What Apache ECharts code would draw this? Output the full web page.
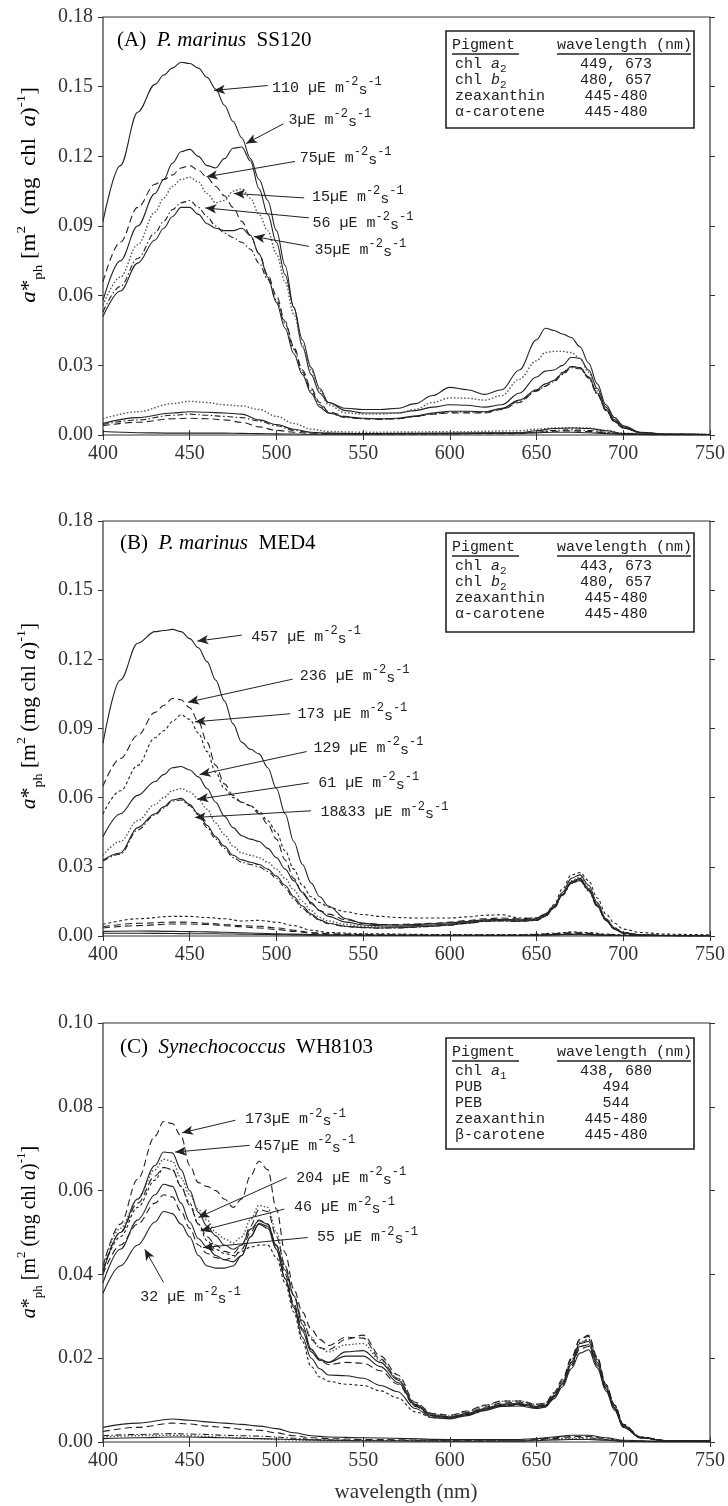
<!DOCTYPE html>
<html><head><meta charset="utf-8">
<script src="https://cdn.jsdelivr.net/npm/echarts@6/dist/echarts.min.js"></script>
<style>html,body{margin:0;padding:0;background:#fff}#c{width:728px;height:1506px}</style>
</head><body><div id="c"></div>
<script>
// ---------- data ----------
const wl = [400,410,420,430,435,440,445,450,455,460,465,470,475,480,485,490,495,500,505,510,515,520,525,530,540,550,560,570,580,590,600,610,620,630,640,650,655,660,665,670,675,680,685,690,695,700,710,725,750];
const wlLow = [400,420,440,450,460,470,480,490,500,510,520,530,550,600,640,650,660,670,680,690,700,720,750];
const xTicks = [400,450,500,550,600,650,700,750];
const yTicksAB = [0,0.03,0.06,0.09,0.12,0.15,0.18];
const yTicksC = [0,0.02,0.04,0.06,0.08,0.10];

// Panel A: P. marinus SS120
const A110 = [0.092,0.116,0.139,0.151,0.155,0.158,0.1605,0.160,0.158,0.154,0.149,0.142,0.135,0.128,0.119,0.110,0.101,0.088,0.073,0.055,0.038,0.026,0.018,0.014,0.0115,0.011,0.011,0.0115,0.0135,0.017,0.0205,0.0195,0.0175,0.0195,0.028,0.041,0.046,0.045,0.0435,0.042,0.038,0.031,0.022,0.013,0.0075,0.004,0.0012,0.0004,0.0002];
const A3   = [0.058,0.075,0.090,0.104,0.110,0.117,0.122,0.123,0.120,0.116,0.115,0.119,0.1235,0.124,0.118,0.106,0.095,0.083,0.069,0.055,0.041,0.029,0.020,0.014,0.0105,0.0095,0.0095,0.0095,0.0105,0.012,0.013,0.0128,0.012,0.013,0.018,0.025,0.0275,0.028,0.030,0.0335,0.033,0.028,0.020,0.012,0.0065,0.0035,0.001,0.0003,0.0002];
const A75  = [0.066,0.083,0.098,0.108,0.110,0.112,0.115,0.116,0.114,0.111,0.107,0.103,0.098,0.092,0.086,0.078,0.069,0.060,0.049,0.038,0.028,0.020,0.014,0.010,0.008,0.007,0.0068,0.007,0.008,0.009,0.0095,0.0095,0.0095,0.011,0.014,0.019,0.021,0.0235,0.027,0.0295,0.029,0.025,0.018,0.011,0.006,0.003,0.001,0.0003,0.0002];
const A15  = [0.056,0.068,0.082,0.096,0.102,0.107,0.110,0.111,0.109,0.104,0.100,0.101,0.105,0.106,0.102,0.095,0.088,0.078,0.066,0.052,0.039,0.028,0.019,0.013,0.0095,0.009,0.009,0.0095,0.011,0.014,0.016,0.0158,0.015,0.017,0.024,0.032,0.0355,0.036,0.036,0.0355,0.033,0.027,0.019,0.011,0.006,0.003,0.001,0.0003,0.0002];
const A56  = [0.053,0.064,0.076,0.087,0.092,0.097,0.100,0.101,0.098,0.094,0.090,0.087,0.085,0.083,0.080,0.074,0.067,0.058,0.048,0.037,0.027,0.019,0.013,0.0095,0.0075,0.007,0.0068,0.007,0.008,0.0092,0.0098,0.0098,0.0098,0.0112,0.0145,0.019,0.021,0.023,0.026,0.029,0.0285,0.0245,0.0175,0.0105,0.0055,0.003,0.001,0.0003,0.0002];
const A35  = [0.051,0.062,0.074,0.084,0.089,0.094,0.098,0.098,0.095,0.091,0.089,0.088,0.088,0.089,0.086,0.078,0.068,0.057,0.046,0.035,0.026,0.018,0.012,0.0095,0.0078,0.0072,0.007,0.0072,0.0082,0.0095,0.0102,0.0102,0.010,0.0115,0.015,0.0195,0.022,0.0235,0.0265,0.0295,0.029,0.025,0.018,0.0108,0.0058,0.003,0.001,0.0003,0.0002];
const AL1 = [0.007,0.010,0.0135,0.0145,0.014,0.013,0.0125,0.011,0.008,0.005,0.0025,0.0015,0.0012,0.0014,0.0018,0.0025,0.003,0.0032,0.003,0.002,0.0008,0.0003,0.0002];
const AL2 = [0.005,0.0075,0.0095,0.010,0.0098,0.0095,0.009,0.0065,0.0045,0.0025,0.0012,0.0008,0.0006,0.0008,0.001,0.0018,0.0028,0.003,0.0028,0.0018,0.0006,0.0002,0.0001];
const AL3 = [0.0045,0.0065,0.0085,0.009,0.0085,0.008,0.0075,0.006,0.004,0.002,0.001,0.0007,0.0005,0.0006,0.0008,0.0012,0.002,0.0022,0.002,0.0012,0.0004,0.0001,0.0001];
const AL4 = [0.004,0.0055,0.007,0.0072,0.007,0.0065,0.0055,0.0035,0.002,0.0012,0.0008,0.0006,0.0005,0.0005,0.0006,0.001,0.0016,0.0018,0.0015,0.001,0.0004,0.0001,0.0001];
const AL5 = [0.0015,0.001,0.0008,0.0008,0.0008,0.0008,0.0007,0.0006,0.0005,0.0004,0.0003,0.0003,0.0003,0.0006,0.0008,0.001,0.0012,0.0012,0.001,0.0006,0.0003,0.0001,0.0001];

// Panel B: P. marinus MED4
const B457 = [0.0836,0.111,0.127,0.132,0.1325,0.133,0.132,0.129,0.125,0.119,0.111,0.102,0.092,0.084,0.081,0.079,0.073,0.064,0.053,0.041,0.031,0.023,0.017,0.013,0.0075,0.0055,0.005,0.0048,0.005,0.0053,0.0057,0.0063,0.007,0.0072,0.007,0.0075,0.0095,0.013,0.019,0.025,0.0265,0.022,0.0145,0.0075,0.0035,0.0015,0.0005,0.0002,0.0001];
const B236 = [0.065,0.077,0.087,0.097,0.100,0.103,0.1025,0.099,0.093,0.084,0.074,0.066,0.061,0.058,0.0565,0.053,0.0485,0.042,0.033,0.025,0.0185,0.014,0.011,0.0095,0.007,0.0055,0.005,0.005,0.0052,0.0055,0.006,0.0067,0.0075,0.0078,0.0075,0.0078,0.0095,0.0125,0.018,0.023,0.024,0.020,0.013,0.007,0.0032,0.0014,0.0005,0.0002,0.0001];
const B173 = [0.053,0.063,0.074,0.086,0.089,0.093,0.096,0.094,0.088,0.080,0.071,0.064,0.060,0.058,0.0565,0.054,0.050,0.045,0.037,0.029,0.022,0.017,0.0145,0.0125,0.0105,0.0093,0.0085,0.008,0.0078,0.0078,0.0078,0.0083,0.009,0.0092,0.0078,0.0078,0.0095,0.0135,0.0205,0.0265,0.0275,0.024,0.0165,0.0095,0.0055,0.003,0.0015,0.0008,0.0004];
const B129 = [0.043,0.053,0.061,0.067,0.070,0.073,0.0735,0.072,0.069,0.064,0.058,0.052,0.047,0.0435,0.042,0.041,0.038,0.034,0.029,0.024,0.019,0.0145,0.011,0.0085,0.006,0.0048,0.0044,0.0043,0.0045,0.0048,0.0052,0.006,0.0068,0.007,0.0068,0.0072,0.009,0.0125,0.018,0.0235,0.025,0.0205,0.0135,0.007,0.003,0.0013,0.0004,0.0002,0.0001];
const B61  = [0.035,0.041,0.050,0.057,0.060,0.063,0.064,0.0625,0.0595,0.055,0.049,0.044,0.039,0.036,0.035,0.034,0.032,0.029,0.025,0.020,0.015,0.011,0.008,0.0065,0.005,0.0042,0.004,0.004,0.0042,0.0045,0.005,0.0058,0.0066,0.0068,0.0066,0.007,0.0088,0.0125,0.0185,0.024,0.0255,0.021,0.014,0.0075,0.0035,0.0015,0.0005,0.0002,0.0001];
const B18  = [0.033,0.036,0.047,0.053,0.056,0.059,0.0597,0.057,0.053,0.048,0.043,0.039,0.035,0.033,0.032,0.031,0.029,0.026,0.022,0.017,0.013,0.0095,0.007,0.0055,0.0042,0.0037,0.0035,0.0036,0.0039,0.0043,0.0048,0.0056,0.0064,0.0066,0.0064,0.0068,0.0086,0.0122,0.018,0.0232,0.0245,0.020,0.013,0.0068,0.003,0.0012,0.0004,0.0002,0.0001];
const B33  = [0.0325,0.0355,0.046,0.0525,0.0555,0.0585,0.059,0.0565,0.0525,0.047,0.042,0.038,0.034,0.032,0.031,0.030,0.028,0.025,0.021,0.016,0.012,0.009,0.0067,0.0053,0.0041,0.0036,0.0034,0.0035,0.0038,0.0042,0.0047,0.0055,0.0063,0.0065,0.0063,0.0067,0.0084,0.012,0.0176,0.0228,0.024,0.0196,0.0127,0.0066,0.0029,0.0012,0.0004,0.0002,0.0001];
const BL1 = [0.005,0.0075,0.0085,0.0085,0.008,0.0075,0.0065,0.0068,0.006,0.0045,0.0025,0.0015,0.001,0.0006,0.0006,0.0008,0.0012,0.0018,0.0015,0.0008,0.0005,0.0004,0.0004];
const BL2 = [0.004,0.0055,0.006,0.006,0.0055,0.005,0.0045,0.0042,0.0035,0.0025,0.0015,0.001,0.0006,0.0004,0.0004,0.0006,0.001,0.0015,0.0012,0.0006,0.0003,0.0002,0.0001];
const BL3 = [0.0035,0.0045,0.0052,0.0052,0.005,0.0045,0.004,0.0035,0.0028,0.002,0.0012,0.0008,0.0005,0.0003,0.0003,0.0005,0.0009,0.0012,0.001,0.0005,0.0002,0.0001,0.0001];
const BL4 = [0.002,0.0022,0.002,0.0019,0.0018,0.0016,0.0014,0.0012,0.001,0.0008,0.0006,0.0005,0.0004,0.0003,0.0003,0.0004,0.0006,0.0008,0.0007,0.0004,0.0002,0.0001,0.0001];
const BL5 = [0.0012,0.0012,0.0011,0.001,0.001,0.0009,0.0008,0.0007,0.0006,0.0005,0.0004,0.0003,0.0003,0.0002,0.0002,0.0003,0.0005,0.0006,0.0005,0.0003,0.0002,0.0001,0.0001];

// Panel C: Synechococcus WH8103
const C173 = [0.042,0.052,0.0627,0.073,0.0765,0.076,0.073,0.066,0.0619,0.061,0.060,0.058,0.056,0.058,0.0635,0.067,0.065,0.0556,0.0452,0.0365,0.031,0.027,0.0245,0.023,0.025,0.0248,0.0198,0.0151,0.0087,0.0063,0.006,0.007,0.0083,0.0093,0.0095,0.0087,0.009,0.0115,0.0145,0.0198,0.0245,0.0252,0.0198,0.0135,0.0087,0.004,0.001,0.0003,0.0002];
const C457 = [0.0405,0.050,0.058,0.066,0.0692,0.069,0.065,0.060,0.0548,0.0515,0.0492,0.047,0.046,0.047,0.0508,0.0528,0.052,0.0468,0.041,0.0349,0.028,0.0222,0.0198,0.019,0.0215,0.0218,0.019,0.0148,0.009,0.0065,0.006,0.0068,0.008,0.009,0.0092,0.0085,0.0088,0.011,0.014,0.019,0.0235,0.024,0.019,0.013,0.0082,0.0038,0.001,0.0003,0.0002];
const C204 = [0.042,0.051,0.058,0.065,0.0675,0.067,0.063,0.059,0.0555,0.053,0.050,0.0485,0.0475,0.049,0.053,0.0565,0.056,0.050,0.042,0.035,0.029,0.025,0.0225,0.0215,0.0232,0.0235,0.0195,0.0152,0.0092,0.0066,0.0062,0.0072,0.0086,0.0097,0.0098,0.009,0.0092,0.0115,0.0145,0.0195,0.0238,0.0245,0.0195,0.0133,0.0085,0.004,0.001,0.0003,0.0002];
const C46  = [0.041,0.050,0.057,0.0635,0.0655,0.065,0.061,0.0565,0.052,0.049,0.047,0.0455,0.045,0.047,0.0515,0.0555,0.055,0.049,0.042,0.035,0.029,0.0245,0.0225,0.022,0.0245,0.0255,0.0205,0.016,0.0095,0.0068,0.0064,0.0074,0.0088,0.0098,0.0098,0.009,0.0092,0.0118,0.015,0.020,0.0245,0.0255,0.0203,0.0138,0.0088,0.0042,0.0012,0.0003,0.0002];
const C55  = [0.038,0.046,0.053,0.059,0.0615,0.061,0.057,0.0525,0.0485,0.0465,0.0445,0.0435,0.043,0.0445,0.049,0.0522,0.0515,0.046,0.039,0.0325,0.0265,0.0215,0.0195,0.019,0.0205,0.0205,0.018,0.0142,0.0088,0.0062,0.0058,0.0066,0.0078,0.0088,0.009,0.0083,0.0086,0.0108,0.0138,0.0185,0.0228,0.0232,0.0185,0.0127,0.008,0.0037,0.001,0.0003,0.0002];
const C91  = [0.040,0.047,0.052,0.057,0.059,0.0585,0.055,0.051,0.047,0.045,0.044,0.0435,0.044,0.046,0.050,0.053,0.052,0.047,0.040,0.033,0.027,0.022,0.0195,0.0185,0.019,0.0188,0.017,0.0138,0.0085,0.006,0.0057,0.0065,0.0077,0.0087,0.0088,0.0082,0.0085,0.0106,0.0135,0.018,0.0222,0.0228,0.0182,0.0125,0.0078,0.0036,0.001,0.0003,0.0002];
const C32  = [0.0355,0.042,0.047,0.0525,0.055,0.0545,0.052,0.049,0.0445,0.042,0.0415,0.0415,0.042,0.0445,0.049,0.052,0.051,0.046,0.039,0.032,0.025,0.020,0.0175,0.016,0.0158,0.0152,0.0135,0.012,0.008,0.0058,0.0055,0.0063,0.0075,0.0085,0.0086,0.008,0.0083,0.0103,0.0132,0.0175,0.0212,0.022,0.0177,0.0122,0.0076,0.0035,0.001,0.0003,0.0002];
const C120 = [0.041,0.049,0.056,0.0625,0.0655,0.065,0.061,0.057,0.052,0.048,0.046,0.045,0.0445,0.0455,0.0465,0.047,0.047,0.044,0.038,0.031,0.024,0.018,0.0155,0.0145,0.0138,0.0135,0.0122,0.0105,0.0072,0.0058,0.0056,0.0064,0.0077,0.0088,0.009,0.0083,0.0086,0.011,0.014,0.019,0.0235,0.0245,0.0198,0.0135,0.0088,0.0042,0.0012,0.0003,0.0002];
const CL1 = [0.0035,0.0045,0.0055,0.0052,0.0048,0.0045,0.0042,0.0038,0.0032,0.0022,0.0015,0.0012,0.001,0.0006,0.0006,0.0008,0.0012,0.0016,0.0016,0.001,0.0004,0.0002,0.0001];
const CL2 = [0.0025,0.0035,0.0045,0.0043,0.0038,0.0035,0.003,0.0028,0.0022,0.0015,0.001,0.0008,0.0006,0.0004,0.0004,0.0006,0.001,0.0013,0.0013,0.0008,0.0003,0.0001,0.0001];
const CL3 = [0.0015,0.0018,0.002,0.0019,0.0018,0.0016,0.0015,0.0014,0.0012,0.0009,0.0006,0.0005,0.0004,0.0003,0.0003,0.0005,0.0008,0.001,0.001,0.0006,0.0002,0.0001,0.0001];
const CL4 = [0.0012,0.0015,0.0016,0.0015,0.0013,0.0011,0.001,0.0008,0.0006,0.0005,0.0004,0.0003,0.0003,0.0002,0.0003,0.0004,0.0006,0.0008,0.0008,0.0005,0.0002,0.0001,0.0001];
const CL5 = [0.0008,0.001,0.0012,0.0012,0.0011,0.001,0.0009,0.0008,0.0007,0.0006,0.0005,0.0004,0.0003,0.0002,0.0002,0.0003,0.0005,0.0006,0.0006,0.0004,0.0002,0.0001,0.0001];

// annotations: [label prefix, textAnchor(nm,val), arrowTail, arrowHead]
const annA = [
  ['110 ', [496,0.1495],[495,0.1505],[464,0.1484]],
  ['3',    [505.5,0.1357],[504,0.1340],[482.5,0.1255]],
  ['75',   [512,0.1193],[510.7,0.1178],[459.7,0.1112]],
  ['15',   [519,0.1025],[516,0.1021],[475.5,0.1040]],
  ['56 ',  [519.4,0.0913],[518.8,0.0935],[459,0.0978]],
  ['35',   [520.5,0.0797],[518.8,0.0812],[487,0.0855]]
];
const annB = [
  ['457 ',   [484,0.1297],[480,0.1305],[454.4,0.1279]],
  ['236 ',   [512,0.1129],[509.3,0.1114],[449,0.1014]],
  ['173 ',   [510.7,0.0964],[508,0.0964],[453,0.0929]],
  ['129 ',   [520,0.0814],[517.4,0.0800],[455.7,0.0700]],
  ['61 ',    [522.7,0.0664],[518.7,0.0664],[454.4,0.0593]],
  ['18&33 ', [524,0.0536],[520,0.0543],[453,0.0514]]
];
const annC = [
  ['173',[480.5,0.0770],[476.4,0.0768],[445.6,0.0738]],
  ['457',[485.8,0.0706],[484.5,0.0708],[441.6,0.0692]],
  ['204 ',[510,0.0631],[506,0.0631],[455,0.0536]],
  ['46 ', [508.7,0.0560],[504.6,0.0556],[456.3,0.0504]],
  ['55 ', [522,0.0488],[518,0.0488],[457.7,0.0464]],
  ['32 ', [420,0.0345],[434.9,0.0381],[424.1,0.0460]]
];

// ---------- styles ----------
const DASH = [7,4], DOT = [1.5,2], SDASH = [3,2.5], DASHDOT = [6,2.5,1.5,2.5];
const panels = [
  {top:17, height:418, max:0.18, ticks:yTicksAB, ann:annA,
   main:[[A110,'solid'],[A3,'solid'],[A75,DASH],[A15,DOT],[A56,DASHDOT],[A35,'solid']],
   low:[[AL1,DOT],[AL2,'solid'],[AL3,DASHDOT],[AL4,DASH],[AL5,'solid']]},
  {top:521, height:415, max:0.18, ticks:yTicksAB, ann:annB,
   main:[[B457,'solid'],[B236,DASH],[B173,SDASH],[B129,'solid'],[B61,DOT],[B18,'solid'],[B33,DASHDOT]],
   low:[[BL1,SDASH],[BL2,DASH],[BL3,DASH],[BL4,'solid'],[BL5,'solid']]},
  {top:1023, height:419, max:0.10, ticks:yTicksC, ann:annC,
   main:[[C173,DASH],[C457,'solid'],[C204,DOT],[C46,DASH],[C55,'solid'],[C91,DASH],[C32,'solid'],[C120,SDASH]],
   low:[[CL1,'solid'],[CL2,DASH],[CL3,DASHDOT],[CL4,DOT],[CL5,'solid']]}
];

const SERIF = 'Liberation Serif';
const MONO = 'Liberation Mono';
const INK = '#222';

const grids=[], xAxes=[], yAxes=[], series=[];
panels.forEach((p,i)=>{
  grids.push({left:103, width:607, top:p.top, height:p.height, show:true, borderColor:'#333', borderWidth:1.2, backgroundColor:'#fff'});
  xAxes.push({type:'value', gridIndex:i, min:400, max:750, interval:50, position:'bottom',
    axisLine:{show:false}, axisTick:{inside:true, length:5, lineStyle:{color:'#333'}},
    axisLabel:{margin:9, fontFamily:SERIF, fontSize:20, color:'#333', customValues:xTicks}, splitLine:{show:false}});
  xAxes.push({type:'value', gridIndex:i, min:400, max:750, interval:50, position:'top',
    axisLine:{show:false}, axisTick:{inside:true, length:5, lineStyle:{color:'#333'}}, axisLabel:{show:false}, splitLine:{show:false}});
  const step = p.ticks[1]-p.ticks[0];
  yAxes.push({type:'value', gridIndex:i, min:0, max:p.max, interval:step, position:'left',
    axisLine:{show:false}, axisTick:{inside:false, length:5, lineStyle:{color:'#333'}},
    axisLabel:{margin:10, fontFamily:SERIF, fontSize:20, color:'#333', formatter:v=>v.toFixed(2)}, splitLine:{show:false}});
  yAxes.push({type:'value', gridIndex:i, min:0, max:p.max, interval:step, position:'right',
    axisLine:{show:false}, axisTick:{inside:false, length:5, lineStyle:{color:'#333'}}, axisLabel:{show:false}, splitLine:{show:false}});
  const xi = 2*i, yi = 2*i;
  const mk = (xs, arr, type)=>({type:'line', xAxisIndex:xi, yAxisIndex:yi, data:xs.map((w,k)=>[w,arr[k]]),
      showSymbol:false, smooth:0.35, smoothMonotone:'x', silent:true,
      lineStyle:{color: type===DOT ? '#555' : INK, width: type===DOT?1.4:1.1, type:type}});
  p.main.forEach(([arr,type])=>series.push(mk(wl,arr,type)));
  p.low.forEach(([arr,type])=>series.push(mk(wlLow,arr,type)));
  // annotations
  series.push({type:'line', xAxisIndex:xi, yAxisIndex:yi, data:[], silent:true,
    markLine:{silent:true, symbol:['none','arrow'], symbolSize:[7,11], animation:false,
      lineStyle:{color:INK, width:1, type:'solid'}, label:{show:false},
      data:p.ann.map(a=>[{coord:a[2]},{coord:a[3]}])},
    markPoint:{silent:true, symbol:'circle', symbolSize:1, itemStyle:{color:'rgba(0,0,0,0)'}, animation:false,
      data:p.ann.map(a=>({coord:a[1], value:a[0],
        label:{show:true, position:'right', distance:2,
          formatter:'{n|'+a[0]+'µE m}{sup|-2}{s|s}{sup|-1}',
          rich:{n:{fontFamily:MONO, fontSize:15, color:INK, lineHeight:24, verticalAlign:'middle'},
                s:{fontFamily:MONO, fontSize:15, color:INK, lineHeight:24, verticalAlign:'middle', padding:[4,0,0,0]},
                sup:{fontFamily:MONO, fontSize:12, color:INK, verticalAlign:'top'}}}}))}
  });
});

// ---------- graphic text (titles, y names, tables) ----------
const graphics = [];
const titleRich = {n:{fontFamily:SERIF, fontSize:21, color:'#333'}, i:{fontFamily:SERIF, fontSize:21, fontStyle:'italic', color:'#333'}};
const titles = [
  [117, 40, '{n|(A)  }{i|P. marinus}{n|  SS120}'],
  [120, 543, '{n|(B)  }{i|P. marinus}{n|  MED4}'],
  [120, 1047, '{n|(C)  }{i|Synechococcus}{n|  WH8103}']
];
titles.forEach(t=>graphics.push({type:'text', x:t[0], y:t[1], silent:true,
  style:{text:t[2], rich:titleRich, verticalAlign:'middle', align:'left'}}));

const yRich = {
  n:{fontFamily:SERIF, fontSize:20, color:'#333', lineHeight:30, verticalAlign:'middle'},
  ai:{fontFamily:SERIF, fontSize:20, fontStyle:'italic', color:'#333', lineHeight:30, verticalAlign:'middle'},
  sub:{fontFamily:SERIF, fontSize:13, color:'#333', verticalAlign:'bottom'},
  sup:{fontFamily:SERIF, fontSize:13, color:'#333', verticalAlign:'top'}
};
const yNameA = '{ai|a}{n|*}{sub|ph}{n| [m}{sup|2}{n|  (mg  chl  }{ai|a}{n|)}{sup|-1}{n|]}';
const yName = '{ai|a}{n|*}{sub|ph}{n| [m}{sup|2}{n| (mg chl }{ai|a}{n|)}{sup|-1}{n|]}';
[[30,195,yNameA,1.15],[30,716,yName,1.08],[30,1232,yName,1]].forEach(([x,y,t,s])=>graphics.push({type:'text', x:x, y:y, rotation:Math.PI/2, scaleX:s, silent:true,
  style:{text:t, rich:yRich, align:'center', verticalAlign:'middle'}}));

graphics.push({type:'text', x:406, y:1492, silent:true,
  style:{text:'wavelength (nm)', fontFamily:SERIF, fontSize:21, fill:'#333', align:'center', verticalAlign:'middle'}});

const tables = [
  {top:31, h:97, rows:[['chl {ai|a}{sub|2}','449, 673'],['chl {ai|b}{sub|2}','480, 657'],['zeaxanthin','445-480'],['α-carotene','445-480']]},
  {top:533, h:99, rows:[['chl {ai|a}{sub|2}','443, 673'],['chl {ai|b}{sub|2}','480, 657'],['zeaxanthin','445-480'],['α-carotene','445-480']]},
  {top:1038, h:111, rows:[['chl {ai|a}{sub|1}','438, 680'],['PUB','494'],['PEB','544'],['zeaxanthin','445-480'],['β-carotene','445-480']]}
];
const tRich = {
  ai:{fontFamily:MONO, fontSize:15, fontStyle:'italic', color:INK},
  sub:{fontFamily:MONO, fontSize:11, color:INK, verticalAlign:'bottom', padding:[10,0,0,0]}
};
tables.forEach(t=>{
  const ch = [];
  ch.push({type:'rect', shape:{x:446, y:t.top, width:248, height:t.h}, style:{fill:'#fff', stroke:INK, lineWidth:1.6}});
  ch.push({type:'text', x:452, y:t.top+14, style:{text:'Pigment', fontFamily:MONO, fontSize:15, fill:INK, verticalAlign:'middle'}});
  ch.push({type:'text', x:557, y:t.top+14, style:{text:'wavelength (nm)', fontFamily:MONO, fontSize:15, fill:INK, verticalAlign:'middle'}});
  ch.push({type:'line', shape:{x1:452, y1:t.top+23, x2:519, y2:t.top+23}, style:{stroke:INK, lineWidth:1.6}});
  ch.push({type:'line', shape:{x1:557, y1:t.top+23, x2:691, y2:t.top+23}, style:{stroke:INK, lineWidth:1.6}});
  t.rows.forEach((r,k)=>{
    const y = t.top+33+16*k;
    ch.push({type:'text', x:455, y:y, style:{text:r[0], rich:tRich, fontFamily:MONO, fontSize:15, fill:INK, verticalAlign:'middle'}});
    ch.push({type:'text', x:616, y:y, style:{text:r[1], fontFamily:MONO, fontSize:15, fill:INK, align:'center', verticalAlign:'middle'}});
  });
  graphics.push({type:'group', silent:true, children:ch, z:100});
});

const chart = echarts.init(document.getElementById('c'), null, {renderer:'canvas'});
chart.setOption({
  animation:false, backgroundColor:'#fff',
  grid:grids, xAxis:xAxes, yAxis:yAxes, series:series, graphic:graphics
});
</script></body></html>
